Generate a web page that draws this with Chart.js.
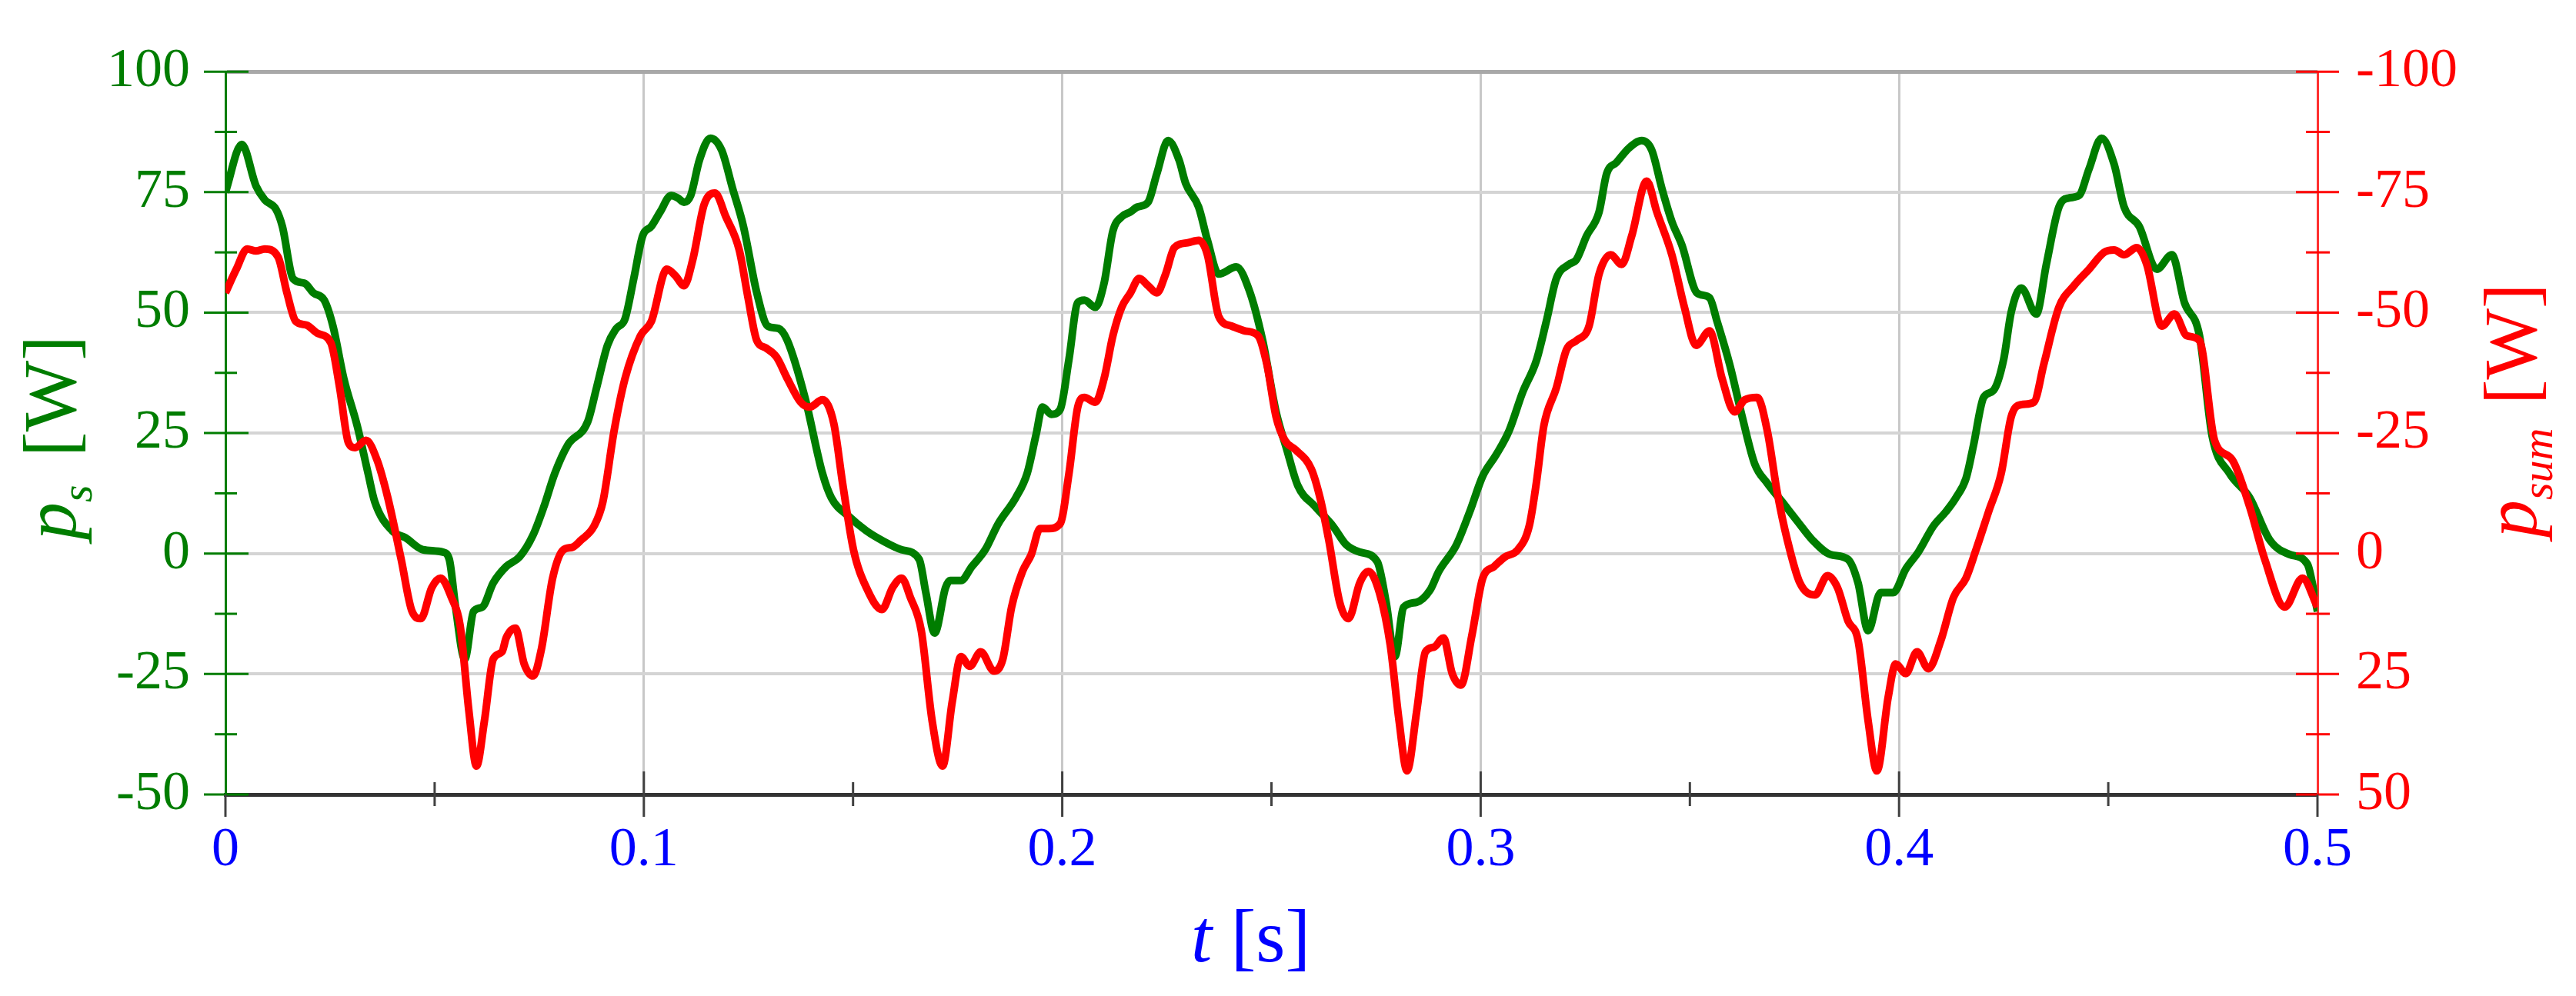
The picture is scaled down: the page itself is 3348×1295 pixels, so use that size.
<!DOCTYPE html>
<html>
<head>
<meta charset="utf-8">
<script src="https://cdn.jsdelivr.net/npm/chart.js@4.4.1/dist/chart.umd.min.js"></script>
<style>
html,body{margin:0;padding:0;background:#fff;}
canvas{display:block;}
</style>
</head>
<body>
<canvas id="c" width="3348" height="1295" style="width:3348px;height:1295px"></canvas>
<script>
// ---- tick labels ----
const xTicks = [0, 0.1, 0.2, 0.3, 0.4, 0.5];
const leftTicks = [-50, -25, 0, 25, 50, 75, 100];
const rightTicks = [-100, -75, -50, -25, 0, 25, 50];

// ---- series p_s (green, left axis) ----
const tS = [0,0.0039,0.0073,0.0094,0.0121,0.0136,0.0162,0.0189,0.021,0.0236,0.0257,0.0283,0.0315,0.0341,0.0357,0.0399,0.043,0.0472,0.052,0.0535,0.055,0.0572,0.0593,0.0614,0.064,0.0671,0.0703,0.0735,0.0761,0.0787,0.0818,0.0866,0.0887,0.0913,0.0934,0.0955,0.0976,0.0997,0.1018,0.1039,0.1065,0.1081,0.1096,0.1112,0.1133,0.1159,0.1186,0.1212,0.1238,0.127,0.1296,0.1322,0.1343,0.1385,0.1427,0.1448,0.149,0.1532,0.1574,0.1616,0.1658,0.1674,0.1695,0.1721,0.1732,0.1758,0.1784,0.1816,0.1847,0.1889,0.1916,0.1937,0.1953,0.1974,0.1995,0.2016,0.2037,0.2053,0.2079,0.21,0.2121,0.2142,0.2163,0.2179,0.2205,0.2226,0.2253,0.2279,0.2295,0.2326,0.2347,0.2374,0.2416,0.2447,0.2479,0.2511,0.2537,0.2563,0.2605,0.2647,0.2679,0.2711,0.2753,0.2774,0.2795,0.2816,0.2847,0.2879,0.29,0.2942,0.2974,0.3005,0.3037,0.3068,0.31,0.3133,0.3157,0.3181,0.3211,0.3229,0.3253,0.3283,0.3301,0.3325,0.3355,0.3385,0.3409,0.3433,0.3457,0.3481,0.3517,0.3547,0.3565,0.3595,0.3625,0.3655,0.3685,0.3721,0.3757,0.3793,0.3836,0.3878,0.3902,0.3926,0.3956,0.3986,0.4016,0.4046,0.4082,0.4112,0.4136,0.416,0.4178,0.4202,0.4226,0.425,0.4268,0.4292,0.4328,0.4352,0.4382,0.4406,0.443,0.4454,0.4484,0.4514,0.4538,0.4574,0.4616,0.4652,0.4682,0.4718,0.4748,0.479,0.4838,0.4886,0.4934,0.4976,0.5];
const pS = [75,84.9,76.3,73.4,71.4,67.9,57.0,56.1,54.1,52.6,47.2,36.3,26.5,16.6,10.7,4.7,3.3,0.8,0.3,-1.2,-11.1,-21.9,-12.0,-11.1,-6.1,-2.7,-0.7,3.8,9.7,16.6,22.5,27.4,34.4,43.2,46.7,48.7,57.1,65.9,67.9,70.9,74.3,73.8,72.9,74.3,81.7,86.2,83.7,75.8,67.9,54.1,47.2,46.7,44.2,32.4,16.6,11.6,7.7,4.7,2.5,0.8,-1.2,-8.1,-16.5,-7.1,-5.6,-5.6,-2.7,0.8,6.2,11.6,16.6,24.5,30.4,28.9,29.9,40.3,52.1,52.6,51.1,56.1,66.9,69.9,70.9,71.9,72.9,78.8,85.7,81.7,76.8,71.9,65.0,58.0,59.5,54.6,44.2,29.4,21.5,14.1,9.7,5.7,1.8,0.3,-1.7,-10.1,-21.4,-11.1,-10.1,-7.6,-3.7,1.8,8.7,16.1,20.5,25.5,33.4,40,48.2,57.1,60.0,61.0,65.9,70.9,78.8,81.2,84.2,85.7,83.7,75.8,68.9,64.0,54.1,53.1,48.2,39.3,28.4,18.6,14.6,10.7,6.7,2.8,-0.2,-1.2,-6.1,-16.0,-8.1,-8.1,-3.2,0.3,5.7,8.7,11.6,15.6,22.5,32.4,33.9,40.3,50.1,55.1,49.7,60.0,71.9,73.8,74.3,79.8,86.2,80.8,71.9,67.9,59.0,62.0,52.1,45.2,24.5,16.6,11.6,2.8,-0.2,-2.2,-12.0];

// ---- series p_sum (red, right reversed axis) ----
const tSum = [0,0.0026,0.0052,0.0073,0.0094,0.0126,0.0147,0.0168,0.0194,0.022,0.0252,0.0273,0.0294,0.031,0.0336,0.0362,0.0388,0.042,0.0446,0.0467,0.0493,0.0514,0.054,0.0561,0.0582,0.06,0.0619,0.064,0.0661,0.0671,0.0693,0.0714,0.0735,0.0755,0.0782,0.0808,0.0829,0.085,0.0881,0.0902,0.0929,0.0955,0.0992,0.1018,0.1055,0.1076,0.1096,0.1117,0.1144,0.117,0.1196,0.1228,0.1249,0.127,0.1291,0.1317,0.1343,0.1375,0.1396,0.1427,0.1454,0.1475,0.1501,0.1532,0.1569,0.1595,0.1616,0.1637,0.1663,0.1689,0.1714,0.1737,0.1758,0.1779,0.1805,0.1837,0.1858,0.1879,0.1905,0.1926,0.1947,0.1968,0.1995,0.2016,0.2037,0.2053,0.2079,0.21,0.2121,0.2142,0.2163,0.2184,0.2205,0.2226,0.2247,0.2268,0.23,0.2326,0.2347,0.2374,0.2405,0.2437,0.2468,0.2489,0.2511,0.2532,0.2558,0.2595,0.2616,0.2637,0.2663,0.2684,0.2711,0.2732,0.2758,0.2784,0.2805,0.2824,0.2847,0.2868,0.2889,0.2911,0.2932,0.2953,0.2979,0.3005,0.3032,0.3058,0.3089,0.3116,0.3133,0.3151,0.3181,0.3205,0.3229,0.3259,0.3283,0.3311,0.3337,0.3361,0.3397,0.3421,0.3457,0.3487,0.3515,0.3547,0.3577,0.3607,0.3631,0.3661,0.3685,0.3709,0.3733,0.3763,0.3799,0.3829,0.3853,0.3878,0.3902,0.3926,0.3947,0.3974,0.3992,0.4016,0.4043,0.407,0.41,0.413,0.416,0.4184,0.4214,0.4244,0.4268,0.4292,0.4322,0.4346,0.4382,0.4418,0.4454,0.449,0.4514,0.4538,0.4568,0.4592,0.4628,0.4658,0.4688,0.4718,0.4754,0.4796,0.4838,0.4874,0.4922,0.4964,0.5];
const pSum = [-54.1,-59.0,-63.2,-62.8,-63.2,-61.5,-54.1,-48.2,-47.4,-45.7,-43.7,-34.4,-23.0,-22.0,-23.5,-19.5,-11.6,1.2,12.0,13.5,7.1,5.1,9.1,15.0,32.8,44.1,34.7,21.9,20.4,17.5,15.5,22.9,25.4,19.9,5.1,-0.8,-1.3,-2.8,-5.7,-10.7,-25.5,-36.3,-45.2,-48.2,-59.0,-57.6,-55.6,-61.0,-72.4,-74.8,-69.9,-63.0,-53.1,-44.2,-42.7,-40.8,-36.3,-31.4,-30.4,-31.9,-27.0,-14.6,-0.8,7.1,11.6,7.0,5.1,9.1,16.0,34.7,44.1,30.8,21.4,23.4,20.4,24.4,21.9,11.1,3.7,0.2,-5.2,-5.2,-6.2,-16.6,-30.4,-32.4,-31.4,-36.3,-45.2,-51.1,-54.1,-57.1,-55.6,-54.1,-58.0,-63.5,-64.5,-65.0,-62.0,-49.2,-47.2,-46.2,-45.2,-39.3,-28.4,-23.5,-21.5,-17.6,-11.6,-2.8,10.1,13.5,6.1,3.7,8.1,19.0,34.7,45.1,32.8,20.4,19.4,17.5,24.9,27.3,17.0,5.1,2.7,0.7,-0.8,-5.7,-14.6,-26.5,-34.4,-42.3,-44.2,-47.2,-58.0,-62.0,-60.0,-65.9,-77.3,-70.9,-62.0,-51.1,-43.2,-46.2,-36.3,-29.4,-31.9,-32.4,-25.5,-12.6,-2.8,6.1,8.6,4.6,7.1,14.0,18.0,34.7,45.1,29.8,22.9,24.9,20.4,23.9,18.0,9.1,5.1,-0.8,-8.7,-16.6,-28.4,-30.9,-31.4,-39.3,-51.1,-55.6,-59.0,-62.5,-63.0,-62.0,-63.5,-60.0,-47.2,-49.7,-45.2,-44.2,-23.5,-19.5,-9.7,1.2,11.1,5.1,11.1];

// ---- styles ----
const GREEN = '#007d00';
const RED = '#ff0000';
const BLUE = '#0000ff';
const SERIF = '"Liberation Serif", "Times New Roman", serif';
const TICK_FONT = {family: SERIF, size: 72};

function pts(xs, ys){ return xs.map((x,i)=>({x:x, y:ys[i]})); }

function drawRich(ctx, parts, x, y, angle){
  ctx.save();
  ctx.translate(x, y);
  ctx.rotate(angle);
  ctx.textBaseline = 'alphabetic';
  ctx.textAlign = 'left';
  let pos = 0;
  for (const p of parts){
    ctx.font = p.font;
    pos += (p.dx || 0);
    ctx.fillText(p.text, pos, p.dy || 0);
    pos += ctx.measureText(p.text).width;
  }
  ctx.restore();
}

const deco = {
  id: 'deco',
  afterDraw(chart){
    const ctx = chart.ctx;
    const xs = chart.scales.x, yl = chart.scales.y, yr = chart.scales.y2;
    const L = chart.chartArea.left, R = chart.chartArea.right, B = chart.chartArea.bottom;
    ctx.save();
    ctx.lineWidth = 3;
    ctx.lineCap = 'butt';
    function seg(x1,y1,x2,y2){ ctx.beginPath(); ctx.moveTo(x1,y1); ctx.lineTo(x2,y2); ctx.stroke(); }
    // left axis ticks
    ctx.strokeStyle = GREEN;
    for (let i=0;i<leftTicks.length;i++){
      const p = yl.getPixelForValue(leftTicks[i]);
      seg(L-28, p, L+30, p);
      if (i < leftTicks.length-1){
        const m = yl.getPixelForValue((leftTicks[i]+leftTicks[i+1])/2);
        seg(L-14, m, L+15, m);
      }
    }
    // right axis ticks
    ctx.strokeStyle = RED;
    for (let i=0;i<rightTicks.length;i++){
      const p = yr.getPixelForValue(rightTicks[i]);
      seg(R-28, p, R+28, p);
      if (i < rightTicks.length-1){
        const m = yr.getPixelForValue((rightTicks[i]+rightTicks[i+1])/2);
        seg(R-15, m, R+16, m);
      }
    }
    // x axis ticks
    ctx.strokeStyle = '#404040';
    for (let i=0;i<xTicks.length;i++){
      const p = xs.getPixelForValue(xTicks[i]);
      if (i===0 || i===xTicks.length-1) seg(p, B, p, B+29);
      else seg(p, B-30, p, B+29);
      if (i < xTicks.length-1){
        const m = xs.getPixelForValue((xTicks[i]+xTicks[i+1])/2);
        seg(m, B-16, m, B+15);
      }
    }
    ctx.restore();

    // axis titles
    const big = 'italic 98px ' + SERIF;
    const reg = '98px ' + SERIF;
    const sub = 'italic 58px ' + SERIF;
    ctx.save();
    ctx.fillStyle = GREEN;
    const lp = [{text:'p', font:big},{text:'s', font:sub, dy:21},{text:' [W]', font:reg, dx:12}];
    drawRich(ctx, lp, 98, 702, -Math.PI/2);
    ctx.fillStyle = RED;
    const rp = [{text:'p', font:big},{text:'sum', font:sub, dy:21},{text:' [W]', font:reg, dx:6}];
    drawRich(ctx, rp, 3296, 699, -Math.PI/2);
    ctx.fillStyle = BLUE;
    const xp = [{text:'t', font:big},{text:' [s]', font:reg}];
    drawRich(ctx, xp, 1548, 1250, 0);
    ctx.restore();
  }
};

const ctx = document.getElementById('c').getContext('2d');
new Chart(ctx, {
  type: 'line',
  data: {
    datasets: [
      {
        label: 'p_sum',
        data: pts(tSum, pSum),
        yAxisID: 'y2',
        borderColor: RED,
        borderWidth: 10,
        pointRadius: 0,
        fill: false,
        cubicInterpolationMode: 'monotone'
      },
      {
        label: 'p_s',
        data: pts(tS, pS),
        yAxisID: 'y',
        borderColor: GREEN,
        borderWidth: 10,
        pointRadius: 0,
        fill: false,
        cubicInterpolationMode: 'monotone'
      }
    ]
  },
  options: {
    responsive: false,
    devicePixelRatio: 1,
    animation: false,
    layout: {padding: {top: 62, left: 0, right: 0, bottom: 0}},
    plugins: {legend: {display: false}, tooltip: {enabled: false}},
    scales: {
      x: {
        type: 'linear',
        min: 0, max: 0.5,
        afterBuildTicks: s => { s.ticks = xTicks.map(v => ({value: v})); },
        afterFit: s => { s.height = 262; },
        ticks: {
          color: BLUE, font: TICK_FONT, padding: 30, maxRotation: 0, autoSkip: false,
          callback: v => String(Math.round(v*10)/10)
        },
        grid: {
          drawTicks: false,
          color: c => '#c8c8c8',
          lineWidth: c => (c.tick && (c.tick.value === 0 || c.tick.value === 0.5)) ? 0 : 3
        },
        border: {display: true, color: '#333333', width: 5}
      },
      y: {
        type: 'linear', position: 'left',
        min: -50, max: 100,
        afterBuildTicks: s => { s.ticks = leftTicks.map(v => ({value: v})); },
        afterFit: s => { s.width = 293; },
        ticks: {color: GREEN, font: TICK_FONT, padding: 46, callback: v => String(v)},
        grid: {
          drawTicks: false,
          color: c => (c.tick && c.tick.value === 100) ? '#a8a8a8' : '#d4d4d4',
          lineWidth: c => (c.tick && c.tick.value === -50) ? 0 : ((c.tick && c.tick.value === 100) ? 5 : 4)
        },
        border: {display: true, color: GREEN, width: 3}
      },
      y2: {
        type: 'linear', position: 'right', reverse: true,
        min: -100, max: 50,
        afterBuildTicks: s => { s.ticks = rightTicks.map(v => ({value: v})); },
        afterFit: s => { s.width = 336; },
        ticks: {color: RED, font: TICK_FONT, padding: 50, callback: v => String(v)},
        grid: {drawOnChartArea: false, drawTicks: false},
        border: {display: true, color: '#ff3030', width: 3}
      }
    }
  },
  plugins: [deco]
});
</script>
</body>
</html>
